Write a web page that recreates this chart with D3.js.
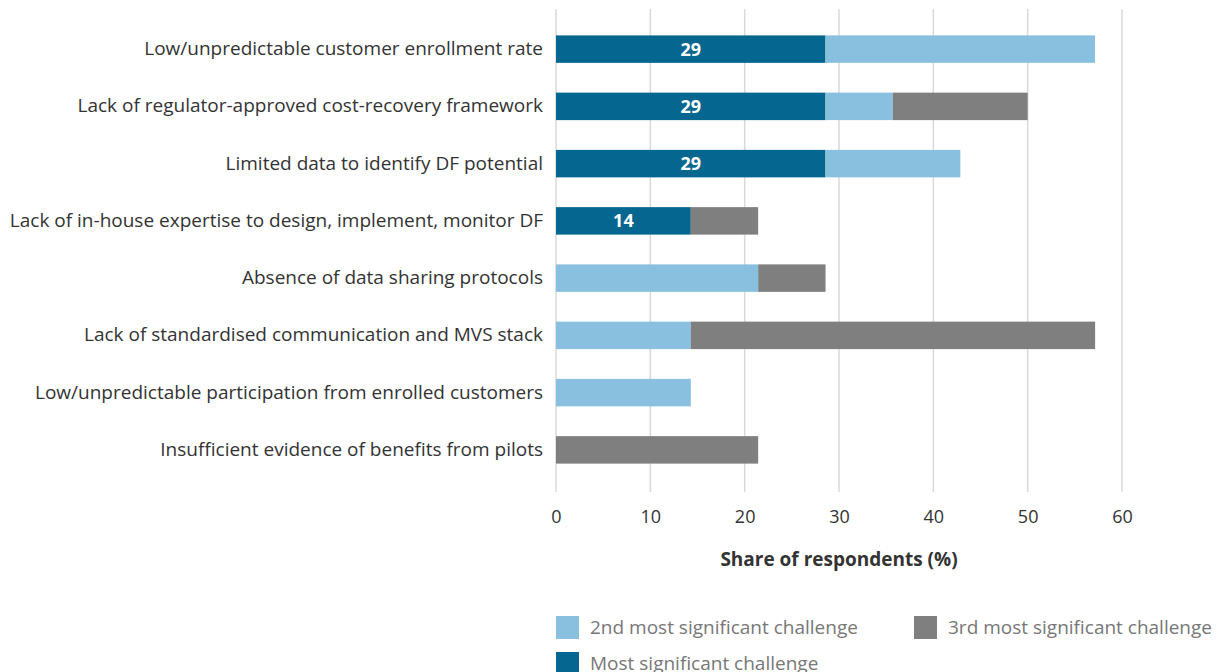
<!DOCTYPE html>
<html>
<head>
<meta charset="utf-8">
<script src="https://cdn.jsdelivr.net/npm/d3@7"></script>
<style>
  html, body { margin: 0; padding: 0; background: #fff; }
  svg text { font-family: "Open Sans", Lato, sans-serif; }
</style>
</head>
<body>
<svg id="chart" width="1229" height="672"></svg>
<script>
// Challenges, top to bottom
const categories = [
  "Low/unpredictable customer enrollment rate",
  "Lack of regulator-approved cost-recovery framework",
  "Limited data to identify DF potential",
  "Lack of in-house expertise to design, implement, monitor DF",
  "Absence of data sharing protocols",
  "Lack of standardised communication and MVS stack",
  "Low/unpredictable participation from enrolled customers",
  "Insufficient evidence of benefits from pilots"
];

// Share of respondents (%) ranking each challenge
const mostSignificant   = [28.57, 28.57, 28.57, 14.29, 0, 0, 0, 0];
const secondSignificant = [28.57, 7.14, 14.29, 0, 21.43, 14.29, 14.29, 0];
const thirdSignificant  = [0, 14.29, 0, 7.14, 7.14, 42.86, 0, 21.43];

const seriesNames = ["Most significant challenge", "2nd most significant challenge", "3rd most significant challenge"];
const xTicks = [0, 10, 20, 30, 40, 50, 60];

const colors = {
  "Most significant challenge": "#05668f",
  "2nd most significant challenge": "#89c0df",
  "3rd most significant challenge": "#7f7f7f"
};

const rows = categories.map((c, i) => ({
  category: c,
  "Most significant challenge": mostSignificant[i],
  "2nd most significant challenge": secondSignificant[i],
  "3rd most significant challenge": thirdSignificant[i]
}));

const svg = d3.select("#chart");
const plot = { left: 556, right: 1122, top: 20.5, bottom: 478.5 };

const x = d3.scaleLinear().domain([0, 60]).range([plot.left, plot.right]);
const y = d3.scaleBand().domain(categories).range([plot.top, plot.bottom]).paddingInner(0.52).paddingOuter(0.26);

// Vertical gridlines
svg.append("g")
  .selectAll("line")
  .data(xTicks)
  .join("line")
  .attr("x1", d => x(d)).attr("x2", d => x(d))
  .attr("y1", 9).attr("y2", 492)
  .attr("stroke", "#d9d9d9")
  .attr("stroke-width", 1.5);

// Stacked bars
const stack = d3.stack().keys(seriesNames);
const layers = stack(rows);

svg.append("g")
  .selectAll("g")
  .data(layers)
  .join("g")
  .attr("fill", d => colors[d.key])
  .selectAll("rect")
  .data(d => d.filter(s => s[1] - s[0] > 0))
  .join("rect")
  .attr("x", d => x(d[0]))
  .attr("width", d => x(d[1]) - x(d[0]))
  .attr("y", d => y(d.data.category))
  .attr("height", y.bandwidth());

// Value labels on the most significant segment
const fmt = d3.format(".0f");
svg.append("g")
  .selectAll("text")
  .data(layers[0].filter(s => s[1] - s[0] > 0))
  .join("text")
  .attr("x", d => (x(d[0]) + x(d[1])) / 2)
  .attr("y", d => y(d.data.category) + y.bandwidth() / 2)
  .attr("dy", "0.36em")
  .attr("text-anchor", "middle")
  .attr("fill", "#fff")
  .attr("font-weight", "bold")
  .attr("font-size", 18)
  .text(d => fmt(d.data["Most significant challenge"]));

// Category axis
const yAxis = svg.append("g")
  .attr("transform", `translate(${plot.left},0)`)
  .call(d3.axisLeft(y).tickSize(0).tickPadding(13));
yAxis.select(".domain").remove();
yAxis.selectAll("text")
  .attr("font-size", 19)
  .attr("fill", "#333");

// Value axis
const xAxis = svg.append("g")
  .attr("transform", `translate(0,492)`)
  .call(d3.axisBottom(x).tickValues(xTicks).tickSize(0).tickPadding(18));
xAxis.select(".domain").remove();
xAxis.selectAll("text")
  .attr("font-size", 18)
  .attr("fill", "#333");

svg.append("text")
  .attr("x", (plot.left + plot.right) / 2)
  .attr("y", 566)
  .attr("text-anchor", "middle")
  .attr("font-size", 19)
  .attr("font-weight", "bold")
  .attr("fill", "#333")
  .text("Share of respondents (%)");

// Legend
const legendItems = [
  { key: "2nd most significant challenge", x: 556, y: 616 },
  { key: "3rd most significant challenge", x: 914, y: 616 },
  { key: "Most significant challenge", x: 556, y: 652 }
];
const legend = svg.append("g")
  .selectAll("g")
  .data(legendItems)
  .join("g")
  .attr("transform", d => `translate(${d.x},${d.y})`);
legend.append("rect")
  .attr("width", 23).attr("height", 23)
  .attr("fill", d => colors[d.key]);
legend.append("text")
  .attr("x", 34)
  .attr("y", 11.5)
  .attr("dy", "0.36em")
  .attr("font-size", 19)
  .attr("fill", "#777")
  .text(d => d.key);
</script>
</body>
</html>
